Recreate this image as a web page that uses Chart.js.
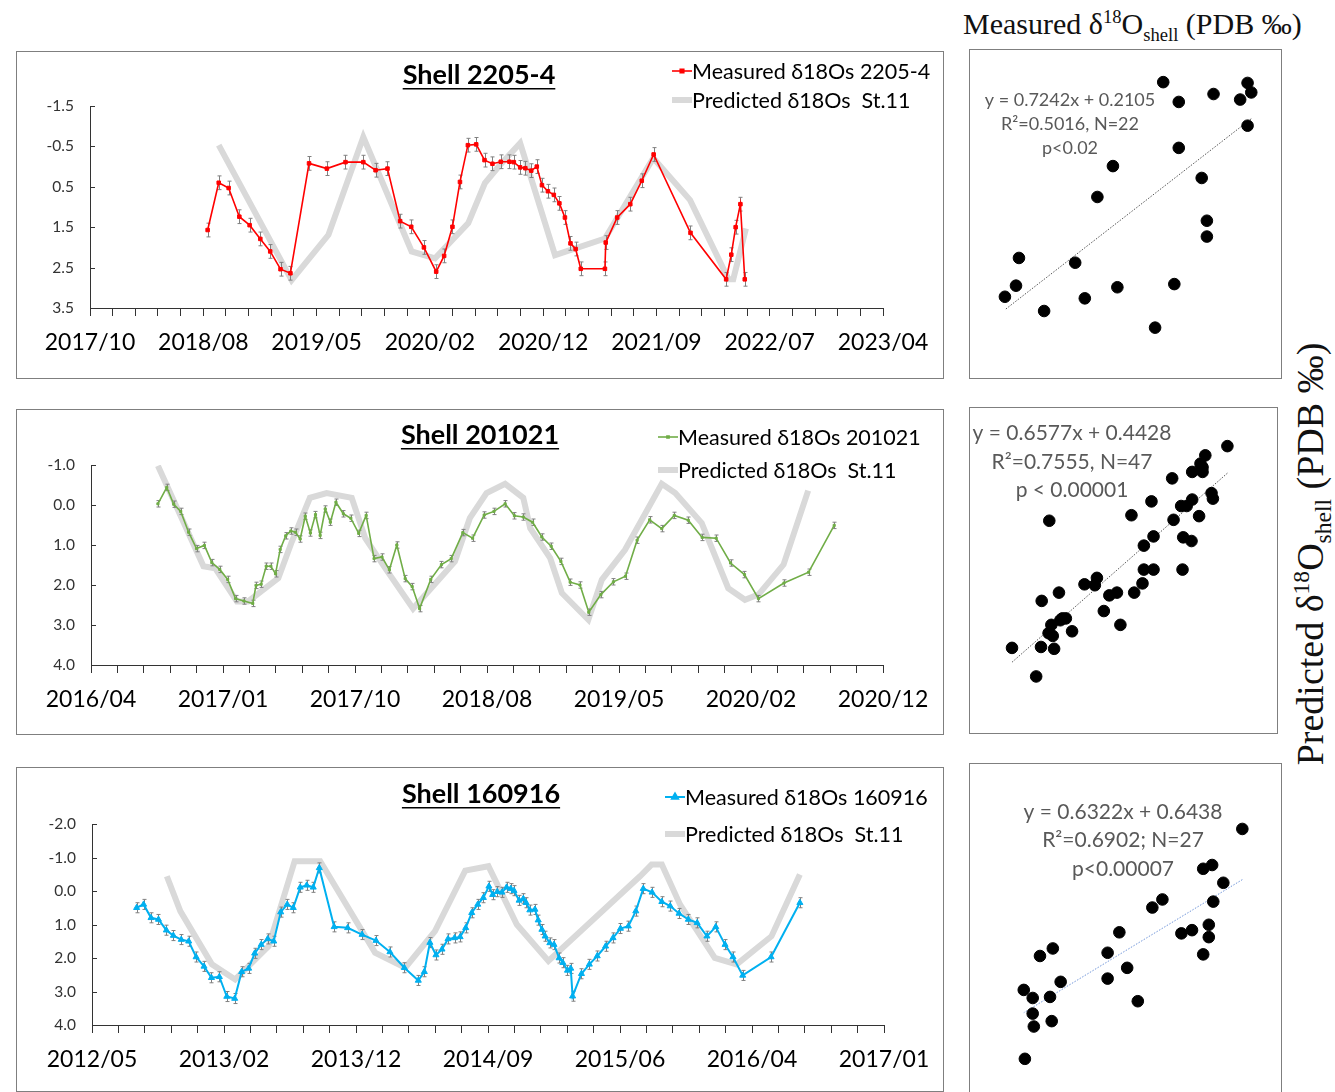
<!DOCTYPE html>
<html>
<head>
<meta charset="utf-8">
<script src="https://cdn.jsdelivr.net/npm/chart.js@4.4.0/dist/chart.umd.min.js"></script>
<style>
body{margin:0;background:#fff;width:1335px;height:1092px;position:relative;overflow:hidden}
.box{position:absolute;border:1px solid #7f7f7f;box-sizing:border-box}
.box canvas{position:absolute;left:0;top:0}
.lbl{position:absolute;font-family:'Liberation Serif','Times New Roman',serif;white-space:nowrap;color:#111;line-height:1}
.lbl sup,.lbl sub{font-size:62%}
</style>
</head>
<body>
<div class="box" style="left:16px;top:51px;width:928px;height:328px"><canvas id="ts1" width="926" height="326"></canvas></div>
<div class="box" style="left:16px;top:409px;width:928px;height:326px"><canvas id="ts2" width="926" height="324"></canvas></div>
<div class="box" style="left:16px;top:767px;width:928px;height:325px"><canvas id="ts3" width="926" height="323"></canvas></div>
<div class="box" style="left:969px;top:49px;width:313px;height:330px"><canvas id="sc1" width="311" height="328"></canvas></div>
<div class="box" style="left:969px;top:407px;width:309px;height:327px"><canvas id="sc2" width="307" height="325"></canvas></div>
<div class="box" style="left:969px;top:763px;width:313px;height:330px"><canvas id="sc3" width="311" height="328"></canvas></div>
<div class="lbl" style="left:963px;top:8px;font-size:30px">Measured &delta;<sup>18</sup>O<sub>shell</sub> (PDB &permil;)</div>
<div class="lbl" style="left:1313px;top:554px;font-size:38px;transform:translate(-50%,-50%) rotate(-90deg)">Predicted &delta;<sup>18</sup>O<sub>shell</sub> (PDB &permil;)</div>
<script>
// x values: days after the first axis label
const xLab2205 = ['2017/10', '2018/08', '2019/05', '2020/02', '2020/12', '2021/09', '2022/07', '2023/04'];
const xStep2205 = 286;
const yTicks2205 = [-1.5, -0.5, 0.5, 1.5, 2.5, 3.5];
const days2205 = [297, 325, 350, 377, 403, 430, 455, 481, 506, 553, 598, 645, 690, 721, 751, 783, 811, 843, 874, 894, 915, 934, 954, 975, 996, 1016, 1037, 1059, 1070, 1086, 1099, 1114, 1128, 1141, 1156, 1171, 1185, 1199, 1213, 1226, 1239, 1300, 1302, 1331, 1364, 1393, 1423, 1516, 1606, 1619, 1630, 1642, 1653];
const meas2205 = [1.57, 0.40, 0.53, 1.24, 1.45, 1.79, 2.10, 2.54, 2.64, -0.08, 0.05, -0.11, -0.11, 0.09, 0.05, 1.35, 1.49, 2.00, 2.60, 2.21, 1.49, 0.38, -0.53, -0.55, -0.16, -0.07, -0.12, -0.12, -0.11, 0.02, 0.04, 0.10, 0.00, 0.46, 0.61, 0.70, 0.91, 1.26, 1.90, 2.04, 2.53, 2.53, 1.88, 1.26, 0.93, 0.35, -0.30, 1.64, 2.79, 2.18, 1.50, 0.93, 2.79];
const predDays2205 = [325, 509, 602, 690, 812, 871, 955, 997, 1035, 1086, 1174, 1300, 1422, 1515, 1612, 1624, 1656];
const pred2205 = [-0.53, 2.81, 1.69, -0.73, 2.10, 2.27, 1.40, 0.41, -0.04, -0.58, 2.19, 1.78, -0.21, 0.83, 2.79, 2.79, 1.53];

const xLab201021 = ['2016/04', '2017/01', '2017/10', '2018/08', '2019/05', '2020/02', '2020/12'];
const xStep201021 = 284;
const yTicks201021 = [-1, 0, 1, 2, 3, 4];
const days201021 = [144, 163, 178, 193, 210, 227, 244, 260, 277, 294, 311, 329, 348, 355, 366, 377, 387, 397, 407, 419, 430, 440, 450, 461, 472, 483, 493, 504, 515, 527, 543, 559, 576, 592, 609, 626, 642, 658, 676, 691, 707, 731, 754, 775, 800, 821, 846, 867, 891, 911, 930, 950, 970, 990, 1011, 1031, 1052, 1071, 1097, 1124, 1150, 1175, 1202, 1228, 1255, 1285, 1315, 1345, 1376, 1406, 1436, 1491, 1544, 1599];
const meas201021 = [-0.03, -0.44, -0.02, 0.16, 0.68, 1.09, 1.01, 1.44, 1.61, 1.86, 2.34, 2.40, 2.46, 2.01, 1.98, 1.53, 1.53, 1.72, 1.11, 0.77, 0.65, 0.68, 0.85, 0.28, 0.70, 0.24, 0.76, 0.10, 0.43, -0.07, 0.22, 0.33, 0.71, 0.26, 1.34, 1.30, 1.62, 1.00, 1.84, 2.04, 2.59, 1.86, 1.49, 1.34, 0.69, 0.83, 0.25, 0.16, -0.03, 0.27, 0.30, 0.43, 0.80, 1.03, 1.41, 1.93, 2.00, 2.68, 2.24, 1.92, 1.78, 0.88, 0.37, 0.59, 0.26, 0.38, 0.81, 0.83, 1.45, 1.74, 2.34, 1.95, 1.68, 0.51];
const predDays201021 = [144, 242, 267, 314, 338, 403, 432, 471, 507, 561, 590, 633, 693, 783, 815, 851, 891, 930, 945, 988, 1013, 1070, 1099, 1149, 1228, 1257, 1314, 1371, 1407, 1436, 1490, 1543];
const pred201021 = [-0.98, 1.53, 1.58, 2.41, 2.41, 1.83, 0.92, -0.18, -0.30, -0.18, 0.83, 1.58, 2.59, 1.41, 0.33, -0.30, -0.53, -0.18, 0.58, 1.33, 2.20, 2.87, 1.87, 1.12, -0.53, -0.30, 0.45, 2.08, 2.37, 2.24, 1.49, -0.36];

const xLab160916 = ['2012/05', '2013/02', '2013/12', '2014/09', '2015/06', '2016/04', '2017/01'];
const xStep160916 = 284;
const yTicks160916 = [-2, -1, 0, 1, 2, 3, 4];
const days160916 = [96, 111, 127, 143, 160, 175, 192, 208, 224, 241, 257, 274, 290, 307, 322, 337, 350, 364, 378, 391, 406, 420, 433, 448, 462, 476, 489, 521, 550, 581, 611, 641, 672, 702, 715, 727, 740, 753, 766, 780, 792, 804, 817, 830, 842, 854, 862, 872, 882, 892, 901, 908, 919, 928, 934, 942, 953, 960, 968, 975, 985, 994, 1005, 1013, 1023, 1030, 1034, 1053, 1070, 1087, 1105, 1121, 1137, 1154, 1170, 1186, 1205, 1226, 1244, 1263, 1283, 1302, 1323, 1342, 1362, 1379, 1400, 1461, 1523];
const meas160916 = [0.50, 0.40, 0.80, 0.85, 1.17, 1.33, 1.45, 1.50, 1.97, 2.25, 2.59, 2.56, 3.15, 3.21, 2.41, 2.31, 1.86, 1.60, 1.43, 1.50, 0.63, 0.40, 0.50, -0.11, -0.17, -0.11, -0.69, 1.07, 1.10, 1.30, 1.48, 1.82, 2.29, 2.67, 2.41, 1.54, 1.91, 1.74, 1.43, 1.40, 1.37, 1.10, 0.65, 0.40, 0.20, -0.14, 0.11, 0.02, 0.04, -0.11, -0.07, -0.01, 0.28, 0.23, 0.35, 0.57, 0.55, 0.87, 1.15, 1.35, 1.55, 1.60, 2.00, 2.14, 2.37, 2.31, 3.14, 2.47, 2.19, 1.94, 1.65, 1.40, 1.12, 1.05, 0.60, -0.07, 0.04, 0.32, 0.45, 0.67, 0.85, 0.95, 1.35, 1.07, 1.60, 1.97, 2.52, 1.97, 0.35];
const predDays160916 = [161, 190, 258, 308, 380, 436, 491, 609, 674, 738, 803, 853, 914, 982, 1179, 1204, 1226, 1265, 1340, 1387, 1462, 1523];
const pred160916 = [-0.44, 0.60, 2.19, 2.64, 1.65, -0.89, -0.89, 1.84, 2.29, 1.20, -0.61, -0.74, 1.00, 2.09, -0.44, -0.79, -0.79, 0.40, 2.00, 2.19, 1.35, -0.49];

// scatter panels: x = measured, y = predicted
const sc1Meas = [0.64, -0.50, -0.55, -0.04, -0.40, 0.43, -0.50, 0.43, 1.32, 0.12, 1.53, 0.05, 0.05, 2.59, 1.83, 2.63, 0.49, 1.26, 2.78, 1.70, 2.25, 0.75];
const sc1Pred = [-0.65, -0.64, -0.52, -0.50, -0.43, -0.40, -0.10, 0.18, 0.41, 0.56, 0.80, 1.10, 1.30, 1.57, 1.63, 1.92, 1.90, 1.94, 2.06, 2.08, 2.24, 2.45];
const sc1Fit = [0.7242, 0.2105];
const sc1Text = ['y = 0.7242x + 0.2105', 'R\u00b2=0.5016, N=22', 'p<0.02'];

const sc2Meas = [-0.44, -0.12, -0.05, -0.08, -0.08, 0.07, 0.36, -0.21, -0.23, 0.07, 0.23, 0.15, 0.66, 0.95, 2.14, -0.03, 0.34, 0.63, 0.77, 0.20, 0.08, 0.77, 0.63, 0.21, 0.79, 0.91, 1.16, 1.27, 1.45, 1.48, 1.63, 2.00, 2.25, 1.35, 1.11, 1.90, 1.98, 2.11, 2.15, 2.09, 1.81, 2.68, 2.26, 2.07, 2.33, 1.95, -0.07];
const sc2Pred = [-0.14, -0.04, 0.05, 0.09, 0.14, 0.14, 0.21, 0.37, 0.43, 0.44, 0.51, 0.51, 0.46, 0.61, 0.67, 0.62, 0.66, 0.84, 0.94, 0.85, 0.89, 1.20, 1.20, 1.20, 1.35, 1.45, 1.45, 1.48, 1.29, 1.37, 1.36, 1.45, 1.54, 1.65, 1.80, 1.73, 1.75, 1.80, 1.89, 1.92, 1.87, 2.05, 2.04, 2.06, 2.36, 1.73, 0.11];
const sc2Fit = [0.6577, 0.4428];
const sc2Text = ['y = 0.6577x + 0.4428', 'R\u00b2=0.7555, N=47', 'p < 0.00001'];

const sc3Meas = [-0.70, -0.16, 0.00, -0.36, -0.18, 0.73, 0.91, 1.50, 0.39, 0.20, -0.10, -0.10, 0.00, 2.69, 2.92, 1.71, 1.36, 1.71, 2.55, 3.21, 3.05, 2.74, 3.05, 3.03, 2.71, 1.17, 3.19];
const sc3Pred = [-0.74, -0.07, 0.00, 0.26, 0.61, 0.57, 0.72, 1.18, 1.20, 1.14, 1.04, 1.27, 1.59, 1.48, 1.62, 1.56, 1.84, 2.04, 2.10, 2.25, 2.40, 2.38, 2.69, 2.93, 2.83, 2.46, 3.53];
const sc3Fit = [0.6322, 0.6438];
const sc3Text = ['y = 0.6322x + 0.6438', 'R\u00b2=0.6902; N=27', 'p<0.00007'];

const predLabel = 'Predicted \u03b418Os  St.11';

const deco = {
  id: 'deco',
  beforeDatasetDraw(chart, args, o) {
    if (args.index !== 0 || !o.err) return;
    const ctx = chart.ctx, xs = chart.scales.x, ys = chart.scales.y;
    ctx.save();
    ctx.strokeStyle = '#808080';
    ctx.lineWidth = 1;
    chart.data.datasets[0].data.forEach(p => {
      const x = Math.round(xs.getPixelForValue(p.x)) + 0.5;
      const y1 = ys.getPixelForValue(p.y - o.err), y2 = ys.getPixelForValue(p.y + o.err);
      ctx.beginPath();
      ctx.moveTo(x, y1); ctx.lineTo(x, y2);
      ctx.moveTo(x - 2, y1); ctx.lineTo(x + 2, y1);
      ctx.moveTo(x - 2, y2); ctx.lineTo(x + 2, y2);
      ctx.stroke();
    });
    ctx.restore();
  },
  afterDraw(chart, args, o) {
    const ctx = chart.ctx, ys = chart.scales.y, left = chart.chartArea.left;
    ctx.save();
    // small inward ticks on the value axis
    ctx.strokeStyle = '#333';
    ctx.lineWidth = 1;
    ys.ticks.forEach(t => {
      const y = Math.round(ys.getPixelForValue(t.value)) + 0.5;
      ctx.beginPath(); ctx.moveTo(left, y); ctx.lineTo(left + 5, y); ctx.stroke();
    });
    // underlined title
    ctx.fillStyle = '#000';
    ctx.font = 'bold 27px Lato';
    ctx.textAlign = 'center';
    ctx.textBaseline = 'middle';
    ctx.fillText(o.title[0], o.title[1], o.title[2]);
    const w = ctx.measureText(o.title[0]).width;
    ctx.fillRect(o.title[1] - w / 2, o.title[2] + 13, w, 1.5);
    // legend
    ctx.textAlign = 'left';
    ctx.font = '21.5px Lato';
    chart.data.datasets.forEach((ds, i) => {
      const lx = o.legend[0], ly = o.legend[1] + i * o.legend[2];
      ctx.strokeStyle = ds.borderColor;
      ctx.lineWidth = ds.borderWidth;
      ctx.beginPath(); ctx.moveTo(lx, ly); ctx.lineTo(lx + 20, ly); ctx.stroke();
      if (ds.pointRadius) {
        ctx.fillStyle = ds.borderColor;
        Chart.helpers.drawPoint(ctx, {pointStyle: ds.pointStyle, radius: ds.pointRadius, rotation: 0, borderWidth: 1}, lx + 10, ly);
      }
      ctx.fillStyle = '#000';
      ctx.fillText(ds.label, lx + 20, ly + 1);
    });
    ctx.restore();
  }
};

function series(days, vals) {
  return days.map((d, i) => ({x: d, y: vals[i]}));
}

function tsChart(id, o) {
  const n = (o.labels.length - 1) * 5;
  const xTicks = [];
  for (let k = 0; k <= n; k++) xTicks.push(k * o.step / 5);
  const yt = o.yTicks;
  new Chart(document.getElementById(id), {
    type: 'line',
    data: {
      datasets: [
        {label: o.name, data: series(o.days, o.meas), borderColor: o.color, backgroundColor: o.color,
         borderWidth: o.lw, pointStyle: o.marker, pointRadius: o.pr, pointBorderWidth: 1, tension: 0},
        {label: predLabel, data: series(o.predDays, o.pred), borderColor: '#d9d9d9',
         borderWidth: 6, pointRadius: 0, tension: 0}
      ]
    },
    options: {
      responsive: false,
      animation: false,
      layout: {padding: {left: 0, right: o.box[1], top: o.box[0], bottom: 0}},
      plugins: {
        legend: {display: false},
        tooltip: {enabled: false},
        deco: {err: o.err, title: o.title, legend: o.legend}
      },
      scales: {
        x: {
          type: 'linear', min: 0, max: xTicks[n],
          afterBuildTicks: s => { s.ticks = xTicks.map(v => ({value: v})); },
          afterFit: s => { s.height = o.box[3]; },
          ticks: {autoSkip: false, maxRotation: 0, padding: 13, color: '#000',
                  font: {family: 'Lato', size: 23},
                  callback: (v, i) => i % 5 === 0 ? o.labels[i / 5] : ''},
          grid: {drawOnChartArea: false, tickLength: 8, tickColor: '#333'},
          border: {color: '#333'}
        },
        y: {
          reverse: true, min: yt[0], max: yt[yt.length - 1],
          afterBuildTicks: s => { s.ticks = yt.map(v => ({value: v})); },
          afterFit: s => { s.width = o.box[2]; },
          ticks: {padding: 16, color: '#333', font: {family: 'Lato', size: 15.5},
                  callback: v => v.toFixed(1)},
          grid: {display: false, drawTicks: false},
          border: {color: '#333'}
        }
      }
    },
    plugins: [deco]
  });
}

tsChart('ts1', {name: 'Measured \u03b418Os 2205-4', labels: xLab2205, step: xStep2205, yTicks: yTicks2205,
  days: days2205, meas: meas2205, predDays: predDays2205, pred: pred2205,
  color: '#ff0000', lw: 1.6, marker: 'rect', pr: 2.5, err: 0.17,
  box: [54, 60, 73, 70], title: ['Shell 2205-4', 462, 23], legend: [655, 19, 29]});
tsChart('ts2', {name: 'Measured \u03b418Os 201021', labels: xLab201021, step: xStep201021, yTicks: yTicks201021,
  days: days201021, meas: meas201021, predDays: predDays201021, pred: pred201021,
  color: '#70ad47', lw: 1.6, marker: 'rect', pr: 1.5, err: 0.08,
  box: [55, 60, 74, 69], title: ['Shell 201021', 463, 25], legend: [641, 27, 33]});
tsChart('ts3', {name: 'Measured \u03b418Os 160916', labels: xLab160916, step: xStep160916, yTicks: yTicks160916,
  days: days160916, meas: meas160916, predDays: predDays160916, pred: pred160916,
  color: '#00b0f0', lw: 2, marker: 'triangle', pr: 3.5, err: 0.15,
  box: [56, 59, 75, 66], title: ['Shell 160916', 464, 26], legend: [648, 29, 37]});

const eqText = {
  id: 'eqText',
  afterDraw(chart, args, o) {
    const ctx = chart.ctx;
    ctx.save();
    ctx.fillStyle = '#595959';
    ctx.font = o.size + 'px Lato';
    ctx.textAlign = 'center';
    ctx.textBaseline = 'middle';
    o.lines.forEach((t, i) => ctx.fillText(t, o.x, o.y[i]));
    ctx.restore();
  }
};

function scatter(id, o) {
  const x0 = Math.min(...o.meas), x1 = Math.max(...o.meas);
  new Chart(document.getElementById(id), {
    type: 'scatter',
    data: {
      datasets: [
        {data: series(o.meas, o.pred), backgroundColor: '#000', borderColor: '#000', pointRadius: 5.8},
        {data: [{x: x0, y: o.fit[0] * x0 + o.fit[1]}, {x: x1, y: o.fit[0] * x1 + o.fit[1]}],
         showLine: true, borderColor: o.lineColor, borderWidth: 1, borderDash: [1.5, 1.5], pointRadius: 0}
      ]
    },
    options: {
      responsive: false,
      animation: false,
      layout: {padding: 0},
      plugins: {
        legend: {display: false},
        tooltip: {enabled: false},
        eqText: {lines: o.text, x: o.tx, y: o.ty, size: o.size}
      },
      scales: {
        x: {display: false, reverse: true, min: o.xr[0], max: o.xr[1]},
        y: {display: false, reverse: true, min: o.yr[0], max: o.yr[1]}
      }
    },
    plugins: [eqText]
  });
}

scatter('sc1', {meas: sc1Meas, pred: sc1Pred, fit: sc1Fit, text: sc1Text, lineColor: '#555',
  xr: [-0.86, 3.16], yr: [-0.97, 3.0], tx: 100, ty: [50, 74, 98], size: 18});
scatter('sc2', {meas: sc2Meas, pred: sc2Pred, fit: sc2Fit, text: sc2Text, lineColor: '#555',
  xr: [-1.06, 3.19], yr: [-0.48, 2.90], tx: 102, ty: [25, 54, 82], size: 21});
scatter('sc3', {meas: sc3Meas, pred: sc3Pred, fit: sc3Fit, text: sc3Text, lineColor: '#6f94d8',
  xr: [-1.27, 4.05], yr: [-1.82, 4.02], tx: 153, ty: [48, 76, 105], size: 21});
</script>
</body>
</html>
